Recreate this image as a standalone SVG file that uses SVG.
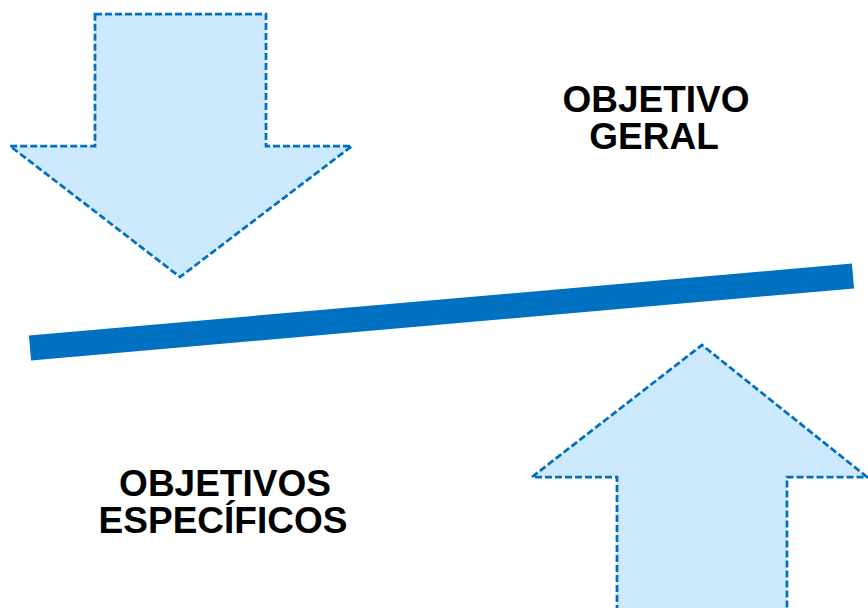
<svg xmlns="http://www.w3.org/2000/svg" width="868" height="608" viewBox="0 0 868 608">
  <style>
    .arrow { fill: #CCE9FD; stroke: #0070C0; stroke-width: 2.75; stroke-dasharray: 7 3; stroke-linejoin: miter; }
    .label { font-family: "Liberation Sans", Arial, sans-serif; font-weight: bold; font-size: 37px; fill: #000000; text-anchor: middle; }
  </style>
  <rect width="868" height="608" fill="#FFFFFF"/>
  <g id="arrow-down">
    <polygon class="arrow" points="95,14 266,14 266,146 352,146 180,277 10,146 95,146"/>
  </g>
  <g id="arrow-up">
    <polygon class="arrow" points="617,612 617,477 532,477 702,345 867,477 787,477 787,612"/>
  </g>
  <g id="connectors">
    <line x1="30" y1="348" x2="853" y2="276" stroke="#0070C0" stroke-width="25" stroke-linecap="butt"/>
  </g>
  <g id="objetivo-geral">
    <text class="label" x="656" y="112">OBJETIVO</text>
    <text class="label" x="654" y="149">GERAL</text>
  </g>
  <g id="objetivos-especificos">
    <text class="label" x="225" y="496">OBJETIVOS</text>
    <text class="label" x="223" y="533">ESPECÍFICOS</text>
  </g>
</svg>
